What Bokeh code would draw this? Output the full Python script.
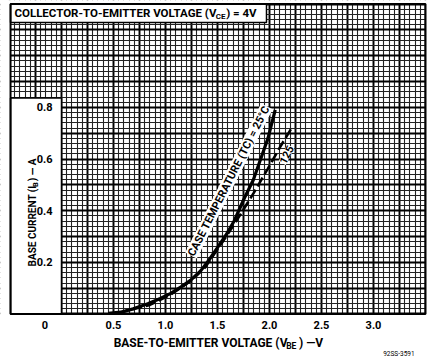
from bokeh.plotting import figure
from bokeh.models import FixedTicker, Label, LinearAxis
from bokeh.embed import file_html
from bokeh.resources import INLINE
import numpy as np

FONT = "Roboto"

# --- data ---
vbe_25 = [0.45, 0.57, 0.69, 0.83, 0.95, 1.05, 1.15, 1.24, 1.34, 1.42, 1.50, 1.58, 1.66, 1.76, 1.845, 1.915, 1.985, 2.055]
ib_25 = [0.003, 0.007, 0.020, 0.040, 0.060, 0.080, 0.105, 0.130, 0.168, 0.210, 0.257, 0.305, 0.360, 0.450, 0.520, 0.600, 0.680, 0.790]

vbe_125 = [0.55, 0.85, 1.05, 1.25, 1.38, 1.47, 1.60, 1.72, 1.85, 1.98, 2.10, 2.22]
ib_125 = [0.005, 0.035, 0.075, 0.130, 0.180, 0.233, 0.310, 0.385, 0.470, 0.560, 0.645, 0.725]

x_tick_values = [-0.16, 0.5, 1.0, 1.5, 2.0, 2.5, 3.0]
x_tick_labels = ["0", "0.5", "1.0", "1.5", "2.0", "2.5", "3.0"]
y_tick_values = [0.2, 0.4, 0.6, 0.8]
y_tick_labels = ["0.2", "0.4", "0.6", "0.8"]

X0, X1 = -0.49, 3.5     # graph-paper extent (V)
Y0, Y1 = 0.0, 1.2       # graph-paper extent (A)

p = figure(width=430, height=361, x_range=(-0.5865, 3.548), y_range=(-0.1839, 1.2137),
           output_backend="svg", toolbar_location=None,
           min_border_left=0, min_border_right=0, min_border_top=0, min_border_bottom=0,
           x_axis_location=None, y_axis_location=None)
p.outline_line_color = None
p.background_fill_color = "white"
p.border_fill_color = "white"

# graph-paper grid
p.xgrid.ticker = FixedTicker(ticks=list(np.round(np.arange(-0.5, 3.51, 0.25), 3)),
                             minor_ticks=list(np.round(np.arange(-0.5, 3.51, 0.05), 3)))
p.ygrid.ticker = FixedTicker(ticks=list(np.round(np.arange(0, 1.21, 0.1), 3)),
                             minor_ticks=list(np.round(np.arange(0, 1.21, 0.02), 3)))
for g in (p.xgrid, p.ygrid):
    g.grid_line_color = "black"
    g.grid_line_width = 1.9
    g.minor_grid_line_color = "#222222"
    g.minor_grid_line_width = 1.1

# white surround outside the graph paper
p.quad(left=[-1, -1, X1, -1], right=[5, X0, 5, 5], bottom=[-1, -1, -1, Y1],
       top=[Y0, 2, 2, 2], fill_color="white", line_color=None)

# white boxes (y-label panel and title panel)
p.quad(left=X0, right=0, bottom=Y0, top=0.836, fill_color="white",
       line_color="black", line_width=1.5)
p.quad(left=X0, right=1.971, bottom=1.1285, top=Y1, fill_color="white",
       line_color="black", line_width=1.5)

# frame border
p.quad(left=X0, right=X1, bottom=Y0, top=Y1, fill_color=None,
       line_color="black", line_width=2)

# dashed 125 C curve (label below interrupts it)
p.line(vbe_125, ib_125, line_color="black", line_width=2.6, line_dash="10 4")

# x axis (at y = 0)
xa = LinearAxis(fixed_location=0, ticker=FixedTicker(ticks=x_tick_values))
xa.major_label_overrides = {v: t for v, t in zip(x_tick_values, x_tick_labels)}
# y axis (at x = 0, inside the frame)
ya = LinearAxis(fixed_location=0, ticker=FixedTicker(ticks=y_tick_values))
ya.major_label_overrides = {v: t for v, t in zip(y_tick_values, y_tick_labels)}
for ax in (xa, ya):
    ax.axis_line_color = None
    ax.major_tick_line_color = None
    ax.minor_tick_line_color = None
    ax.major_label_text_font = FONT
    ax.major_label_text_font_style = "bold"
    ax.major_label_text_font_size = "11px"
    ax.major_label_text_color = "black"
xa.major_label_standoff = 1
ya.major_label_standoff = 3
p.add_layout(xa, "below")
p.add_layout(ya, "left")


def lab(x, y, text, size, align="left", baseline="middle", angle=0, bg=None, style="bold"):
    l = Label(x=x, y=y, text=text, text_font=FONT, text_font_style=style,
              text_font_size=size, text_align=align, text_baseline=baseline,
              angle=angle, text_color="black", background_fill_color=bg)
    p.add_layout(l)


# title with subscript
lab(1.490, 1.165, "COLLECTOR-TO-EMITTER VOLTAGE (V", "11.5px", align="right")
lab(1.484, 1.150, "CE", "8px")
lab(1.583, 1.165, ") = 4V", "11.5px")

# x axis title
lab(2.173, -0.111, "BASE-TO-EMITTER VOLTAGE (V", "12px", align="right")
lab(2.160, -0.124, "BE", "8.5px")
lab(2.283, -0.111, ") \u2014V", "12px")

# y axis title (rotated)
lab(-0.279, 0.4975, "BASE CURRENT (I", "10px", align="right", angle=np.pi / 2)
lab(-0.252, 0.492, "B", "7.5px", angle=np.pi / 2)
lab(-0.279, 0.514, ") \u2014 A", "10px", angle=np.pi / 2)

# curve labels
lab(1.61, 0.515, "CASE TEMPERATURE (TC) = 25\u00b0C", "11px", align="center",
    angle=1.1, bg="white")
lab(2.163, 0.617, "125", "11px", align="center", angle=1.1, bg="white")

# solid 25 C curve on top
p.line(vbe_25, ib_25, line_color="black", line_width=3.2, level="overlay")

# drawing number
lab(3.395, -0.153, "92SS-3591", "6.5px", align="right", style="normal")

open("out.html", "w").write(file_html(p, INLINE))
